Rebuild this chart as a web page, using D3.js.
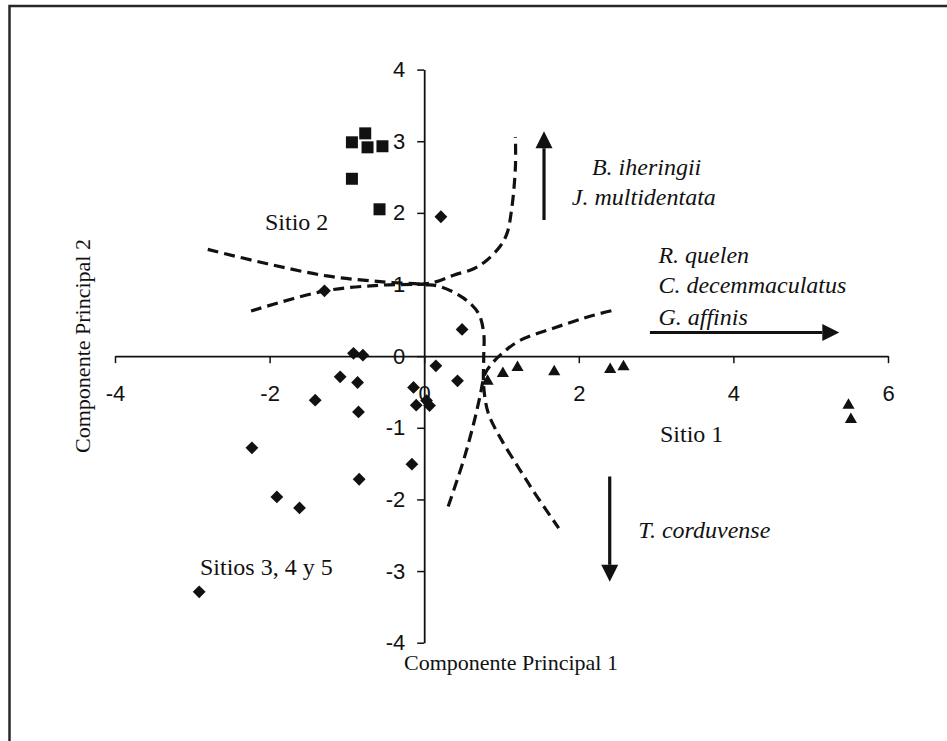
<!DOCTYPE html>
<html>
<head>
<meta charset="utf-8">
<script src="https://cdn.jsdelivr.net/npm/d3@7"></script>
<style>
  html, body { margin: 0; padding: 0; background: #fff; }
  svg { display: block; }
</style>
</head>
<body>
<script>
// ---------- DATA ----------
const xTicks = [-4, -2, 0, 2, 4, 6];
const yTicks = [-4, -3, -2, -1, 0, 1, 2, 3, 4];

// Sitio 2 (squares)
const sitio2 = [[-0.935, 2.985], [-0.763, 3.11], [-0.733, 2.915], [-0.54, 2.93], [-0.935, 2.476], [-0.578, 2.05]];
// Sitio 1 (triangles)
const sitio1 = [[0.82, -0.35], [1.018, -0.242], [1.207, -0.158], [1.682, -0.219], [2.406, -0.186], [2.578, -0.149], [5.489, -0.684], [5.52, -0.885]];
// Sitios 3, 4 y 5 (diamonds)
const sitios345 = [[0.216, 1.946], [-1.29, 0.912], [0.49, 0.373], [-0.915, 0.04], [-0.793, 0.014], [0.151, -0.135],
  [-1.087, -0.289], [-0.862, -0.368], [0.431, -0.345], [-1.41, -0.615], [-0.138, -0.437], [-0.103, -0.684],
  [0.03, -0.62], [0.069, -0.69], [-0.85, -0.778], [-2.229, -1.28], [-0.159, -1.508], [-0.841, -1.718],
  [-1.906, -1.965], [-1.613, -2.118], [-2.911, -3.29]];

// Dashed boundary curves (data space)
const curveA = [[-2.80, 1.49], [-2.03, 1.29], [-1.26, 1.12], [-0.57, 1.04], [0, 1.00], [0.21, 0.97], [0.51, 0.81], [0.70, 0.60],
  [0.77, 0.32], [0.77, -0.01], [0.77, -0.43], [0.83, -0.80], [0.98, -1.13], [1.24, -1.59], [1.46, -1.96], [1.74, -2.40]];
const curveB = [[-2.24, 0.63], [-1.29, 0.91], [-0.57, 0.99], [0, 1.01], [0.16, 1.04], [0.38, 1.13], [0.64, 1.22], [0.81, 1.34],
  [0.98, 1.53], [1.07, 1.71], [1.13, 2.04], [1.18, 2.64], [1.18, 3.06]];
const curveC = [[0.31, -2.10], [0.51, -1.45], [0.64, -0.94], [0.72, -0.57], [0.79, -0.24], [0.88, -0.10], [1.03, 0.06],
  [1.24, 0.22], [1.67, 0.39], [2.19, 0.57], [2.45, 0.64]];

// Species arrows: [x1, y1, x2(tip), y2(tip)]
const arrows = [[1.55, 1.90, 1.55, 3.14], [2.92, 0.33, 5.37, 0.33], [2.40, -1.68, 2.40, -3.15]];

// Annotations: [text, x, y, italic]
const labels = [
  ["Sitio 2", -2.06, 1.875, false],
  ["Sitio 1", 3.05, -1.08, false],
  ["Sitios 3, 4 y 5", -2.90, -2.94, false],
  ["B. iheringii", 2.17, 2.64, true],
  ["J. multidentata", 1.91, 2.22, true],
  ["R. quelen", 3.03, 1.41, true],
  ["C. decemmaculatus", 3.03, 0.99, true],
  ["G. affinis", 3.03, 0.55, true],
  ["T. corduvense", 2.77, -2.43, true]
];
const xTitle = "Componente Principal 1";
const yTitle = "Componente Principal 2";

// ---------- DRAW ----------
const W = 947, H = 741;
const svg = d3.select("body").append("svg").attr("width", W).attr("height", H);
svg.append("rect").attr("width", W).attr("height", H).attr("fill", "#fff");

// frame (top + left visible)
svg.append("path").attr("d", `M9.5,${H} V6 H${W}`).attr("fill", "none")
  .attr("stroke", "#2b2727").attr("stroke-width", 2.5);

const x = d3.scaleLinear().domain([-4, 6]).range([115, 888]);
const y = d3.scaleLinear().domain([-4, 4]).range([642.7, 69.6]);

const sans = "'Liberation Sans', Arial, sans-serif";
const serif = "'Liberation Serif', 'Times New Roman', serif";

// X axis through y=0
const gx = svg.append("g").attr("transform", `translate(0,${y(0)})`)
  .call(d3.axisBottom(x).tickValues(xTicks).tickSize(7).tickSizeOuter(0).tickPadding(22).tickFormat(d3.format("d")));
// Y axis through x=0
const gy = svg.append("g").attr("transform", `translate(${x(0)},0)`)
  .call(d3.axisLeft(y).tickValues(yTicks).tickSize(7).tickSizeOuter(0).tickPadding(12).tickFormat(d3.format("d")));

[gx, gy].forEach(g => {
  g.select(".domain").attr("stroke", "#111").attr("stroke-width", 1.8);
  g.selectAll(".tick line").attr("stroke", "#111").attr("stroke-width", 1.5);
  g.selectAll(".tick text").attr("fill", "#111").style("font-family", sans).style("font-size", "22px")
    .text(d => d < 0 ? "-" + Math.abs(d) : d);
});

// Dashed curves
const line = d3.line().x(d => x(d[0])).y(d => y(d[1])).curve(d3.curveCatmullRom.alpha(0.5));
[curveA, curveB, curveC].forEach(c => {
  svg.append("path").attr("d", line(c)).attr("fill", "none").attr("stroke", "#111")
    .attr("stroke-width", 3.2).attr("stroke-dasharray", "11,6");
});

// Markers
const diamond = d3.symbol(d3.symbolSquare, 82)();
const square = d3.symbol(d3.symbolSquare, 144)();
const tri = d3.symbol(d3.symbolTriangle, 64)();

svg.append("g").selectAll("path").data(sitios345).join("path")
  .attr("d", diamond).attr("fill", "#111")
  .attr("transform", d => `translate(${x(d[0])},${y(d[1])}) rotate(45)`);
svg.append("g").selectAll("path").data(sitio2).join("path")
  .attr("d", square).attr("fill", "#111")
  .attr("transform", d => `translate(${x(d[0])},${y(d[1])})`);
svg.append("g").selectAll("path").data(sitio1).join("path")
  .attr("d", tri).attr("fill", "#111")
  .attr("transform", d => `translate(${x(d[0])},${y(d[1])})`);

// Arrows
const head = 17;
arrows.forEach(a => {
  const x1 = x(a[0]), y1 = y(a[1]), x2 = x(a[2]), y2 = y(a[3]);
  const ang = Math.atan2(y2 - y1, x2 - x1);
  const bx = x2 - head * Math.cos(ang), by = y2 - head * Math.sin(ang);
  svg.append("line").attr("x1", x1).attr("y1", y1).attr("x2", bx).attr("y2", by)
    .attr("stroke", "#111").attr("stroke-width", 3.2);
  const px = -Math.sin(ang) * head / 2, py = Math.cos(ang) * head / 2;
  svg.append("path").attr("d", `M${x2},${y2} L${bx + px},${by + py} L${bx - px},${by - py} Z`).attr("fill", "#111");
});

// Annotations
svg.append("g").selectAll("text").data(labels).join("text")
  .attr("x", d => x(d[1])).attr("y", d => y(d[2]))
  .attr("dominant-baseline", "central")
  .style("font-family", serif).style("font-size", "24px")
  .style("font-style", d => d[3] ? "italic" : "normal")
  .attr("fill", "#111")
  .text(d => d[0]);

// Axis titles
svg.append("text").attr("x", 511).attr("y", 670).attr("text-anchor", "middle")
  .style("font-family", serif).style("font-size", "22px").attr("fill", "#111").text(xTitle);
svg.append("text").attr("transform", "translate(90,346) rotate(-90)").attr("text-anchor", "middle")
  .style("font-family", serif).style("font-size", "22px").attr("fill", "#111").text(yTitle);
</script>
</body>
</html>
